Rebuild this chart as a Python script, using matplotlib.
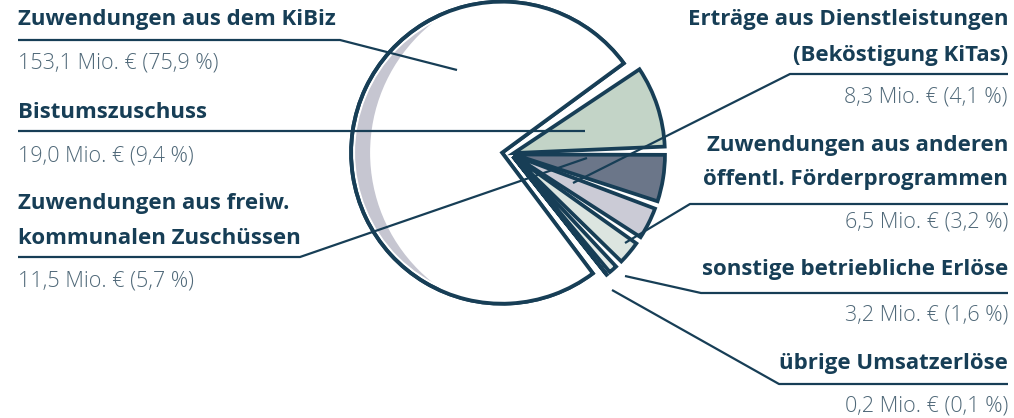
import matplotlib.pyplot as plt
from matplotlib.patches import Circle, Wedge

# data, clockwise from the upper right
labels = ["Bistumszuschuss",
          "Zuwendungen aus freiw.\nkommunalen Zuschüssen",
          "Erträge aus Dienstleistungen\n(Beköstigung KiTas)",
          "Zuwendungen aus anderen\nöffentl. Förderprogrammen",
          "sonstige betriebliche Erlöse",
          "übrige Umsatzerlöse",
          "Zuwendungen aus dem KiBiz"]
mio = ["19,0", "11,5", "8,3", "6,5", "3,2", "0,2", "153,1"]
pct = [9.4, 5.7, 4.1, 3.2, 1.6, 0.1, 75.9]
colors = ["#c3d4c7", "#6b7689", "#cbcbd6", "#dce5e0", "#e6ede9", "#f2f5f3", "#ffffff"]

NAVY = "#173e56"
GREY = "#4f6878"
W, H = 1014, 418
FONT = "Open Sans"


def P(x, y):
    # image pixel -> data coords (y up)
    return x, H - y


fig = plt.figure(figsize=(W / 100, H / 100), dpi=100)
ax = fig.add_axes([0, 0, 1, 1])

cx, cy = P(511, 154)
wedges, _ = ax.pie(pct, colors=colors, startangle=35, counterclock=False,
                   radius=151, center=(cx, cy),
                   explode=[3, 3, 3, 3, 3, 3, 9],
                   wedgeprops=dict(edgecolor=NAVY, linewidth=2.7, joinstyle="miter"))

# small gaps between the slices
for w in wedges:
    span = w.theta2 - w.theta1
    g = min(1.3, span * 0.3)
    w.set_theta1(w.theta1 + g)
    w.set_theta2(w.theta2 - g)

# shadow crescent inside the big slice
kib = wedges[-1]
kx, ky = kib.center
shade = Circle((kx, ky), 147, facecolor="#c6c6d1", edgecolor="none", zorder=3)
shade.set_clip_path(kib)
ax.add_patch(shade)
cover = Circle((kx + 34, ky), 166, facecolor="white", edgecolor="none", zorder=4)
cover.set_clip_path(kib)
ax.add_patch(cover)
ax.add_patch(Wedge((kx, ky), kib.r, kib.theta1, kib.theta2, fill=False,
                   edgecolor=NAVY, linewidth=2.7, zorder=5))

# label blocks: (title lines y, underline y, value y, x anchor, side, leader path)
blocks = [
    ([112], 131, 156, 18, "left", [(18, 131), (585, 131)]),
    ([203, 238], 257, 281, 18, "left", [(18, 257), (300, 257), (587, 158)]),
    ([20, 55], 74, 97, 1008, "right", [(1008, 74), (790, 74), (573, 183)]),
    ([145, 180], 204, 222, 1008, "right", [(1008, 204), (690, 204), (625, 243)]),
    ([270], 293, 315, 1008, "right", [(1008, 293), (701, 293), (625, 276)]),
    ([363], 384, 406, 1008, "right", [(1008, 384), (779, 384), (612, 290)]),
    ([20], 40, 63, 18, "left", [(18, 40), (340, 40), (457, 70)]),
]

for lab, m, p, (ys, uy, vy, x, side, path) in zip(labels, mio, pct, blocks):
    for line, y in zip(lab.split("\n"), ys):
        ax.text(*P(x, y), line, ha=side, va="center", fontsize=16,
                fontweight="bold", color=NAVY, family=FONT)
    val = f"{m} Mio. € ({str(p).replace('.', ',')} %)"
    ax.text(*P(x, vy), val, ha=side, va="center", fontsize=15.5,
            fontweight="light", color=GREY, family=[FONT, "DejaVu Sans"])
    xs = [q[0] for q in path]
    yv = [H - q[1] for q in path]
    ax.plot(xs, yv, color=NAVY, linewidth=1.6, zorder=6, solid_capstyle="butt")

ax.set_xlim(0, W)
ax.set_ylim(0, H)
ax.set_aspect("equal")
ax.axis("off")
fig.savefig("out.png", dpi=100)
